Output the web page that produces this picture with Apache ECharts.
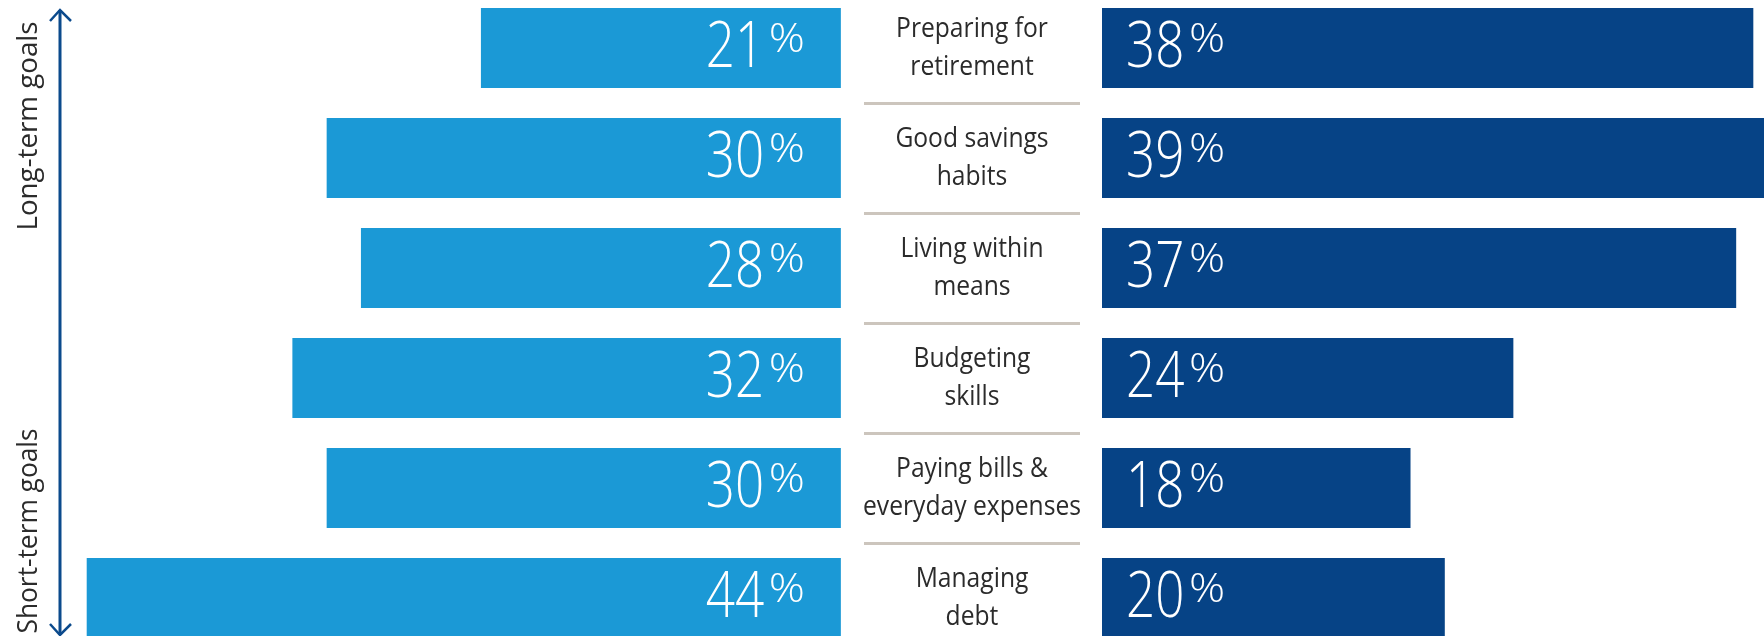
<!DOCTYPE html>
<html>
<head>
  <meta charset="utf-8">
  <title>Financial goals</title>
  <script src="https://cdn.jsdelivr.net/npm/echarts@6/dist/echarts.min.js"></script>
  <style>
    html, body { margin: 0; padding: 0; background: #fff; }
    #chart { width: 1764px; height: 636px; }
  </style>
</head>
<body>
  <div id="chart"></div>
  <script>
    // rows top to bottom, long-term goals first
    const topics = [
      'Preparing for\nretirement',
      'Good savings\nhabits',
      'Living within\nmeans',
      'Budgeting\nskills',
      'Paying bills &\neveryday expenses',
      'Managing\ndebt'
    ];
    const leftShare = [21, 30, 28, 32, 30, 44];
    const rightShare = [38, 39, 37, 24, 18, 20];

    const LIGHT = '#1b99d6', DARK = '#064386', NAVY = '#0b4a8c', INK = '#2b2b2b';
    const PX = 17.14; // pixels per percentage point, same on both sides
    const FONT = "'Open Sans', 'Noto Sans', sans-serif";

    // number + raised percent sign, anchored dx px from the bar's zero end
    function pctLabel(xAxisIndex, yAxisIndex, values, dx) {
      return {
        type: 'custom',
        xAxisIndex: xAxisIndex,
        yAxisIndex: yAxisIndex,
        data: values.map((v, i) => [v, i]),
        z: 5,
        renderItem: function (params, api) {
          let p = api.coord([0, api.value(1)]);
          let x = p[0] + dx, y = p[1];
          return {
            type: 'group',
            children: [
              {
                type: 'text', x: x, y: y + 1, scaleX: 0.8,
                style: {
                  text: String(api.value(0)), fill: '#fff',
                  fontFamily: FONT, fontWeight: 300, fontSize: 64,
                  align: 'left', verticalAlign: 'middle'
                }
              },
              {
                type: 'text', x: x + 63, y: y - 7, scaleX: 1.12,
                style: {
                  text: '%', fill: '#fff',
                  fontFamily: FONT, fontWeight: 300, fontSize: 40,
                  align: 'left', verticalAlign: 'middle'
                }
              }
            ]
          };
        }
      };
    }

    let myChart = echarts.init(document.getElementById('chart'));
    let option = {
      animation: false,
      grid: [
        { left: 1, top: -7, width: 49 * PX, height: 660, outerBoundsMode: 'none' },
        { left: 1102, top: -7, width: 41 * PX, height: 660, outerBoundsMode: 'none' },
        { left: 864, top: -7, width: 216, height: 660, outerBoundsMode: 'none' }
      ],
      xAxis: [
        { gridIndex: 0, type: 'value', min: 0, max: 49, inverse: true, show: false },
        { gridIndex: 1, type: 'value', min: 0, max: 41, show: false },
        { gridIndex: 2, type: 'value', min: 0, max: 1, show: false }
      ],
      yAxis: [
        { gridIndex: 0, type: 'category', data: topics, inverse: true, show: false },
        { gridIndex: 1, type: 'category', data: topics, inverse: true, show: false },
        {
          gridIndex: 2, type: 'category', data: topics, inverse: true,
          axisLine: { show: false }, axisTick: { show: false }, axisLabel: { show: false },
          splitLine: { show: true, lineStyle: { color: '#ccc5bd', width: 3 } }
        }
      ],
      series: [
        {
          type: 'bar', xAxisIndex: 0, yAxisIndex: 0, data: leftShare,
          barWidth: 80, itemStyle: { color: LIGHT }
        },
        {
          type: 'bar', xAxisIndex: 1, yAxisIndex: 1, data: rightShare,
          barWidth: 80, itemStyle: { color: DARK }
        },
        pctLabel(0, 0, leftShare, -135),
        pctLabel(1, 1, rightShare, 24),
        {
          type: 'custom', xAxisIndex: 2, yAxisIndex: 2,
          data: topics.map((t, i) => [0.5, i]),
          renderItem: function (params, api) {
            let p = api.coord([api.value(0), api.value(1)]);
            return {
              type: 'text',
              x: p[0],
              y: p[1],
              scaleX: 0.88,
              style: {
                text: topics[api.value(1)],
                fontFamily: FONT, fontSize: 28, lineHeight: 38, fill: INK,
                align: 'center', verticalAlign: 'middle'
              }
            };
          }
        }
      ],
      graphic: [
        {
          type: 'polyline',
          shape: { points: [[60, 10], [60, 635]] },
          style: { stroke: NAVY, lineWidth: 3 }
        },
        {
          type: 'polyline',
          shape: { points: [[50, 21], [60, 10], [71, 21]] },
          style: { stroke: NAVY, lineWidth: 2.5, fill: null }
        },
        {
          type: 'polyline',
          shape: { points: [[50, 624], [60, 635], [71, 624]] },
          style: { stroke: NAVY, lineWidth: 2.5, fill: null }
        },
        {
          type: 'text', x: 29, y: 126, rotation: Math.PI / 2, scaleX: 0.99,
          style: { text: 'Long-term goals', fontFamily: FONT, fontSize: 28, fill: INK,
                   align: 'center', verticalAlign: 'middle' }
        },
        {
          type: 'text', x: 29, y: 531, rotation: Math.PI / 2, scaleX: 0.94,
          style: { text: 'Short-term goals', fontFamily: FONT, fontSize: 28, fill: INK,
                   align: 'center', verticalAlign: 'middle' }
        }
      ]
    };
    myChart.setOption(option);
  </script>
</body>
</html>
